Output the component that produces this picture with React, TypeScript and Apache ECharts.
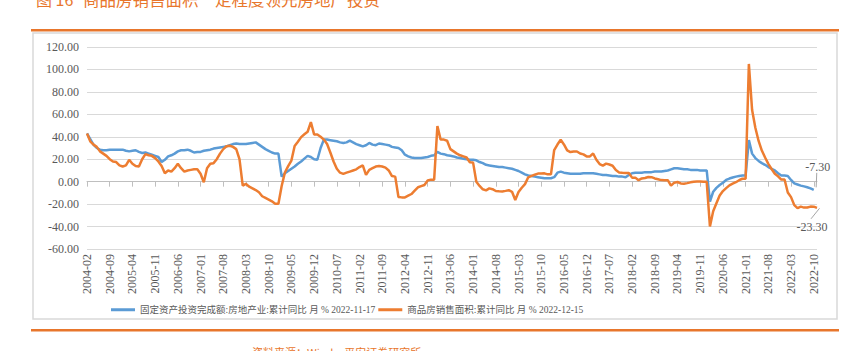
import React, { useEffect, useRef } from "react";
import * as echarts from "echarts";

// ---- categories: monthly, 2004-02 .. 2022-11 ----
const START_YEAR = 2004;
const START_MONTH = 2;
const END_YEAR = 2022;
const END_MONTH = 11;
const months: string[] = [];
for (let y = START_YEAR, m = START_MONTH; y < END_YEAR || (y === END_YEAR && m <= END_MONTH); ) {
  months.push(`${y}-${m < 10 ? "0" + m : m}`);
  m++;
  if (m > 12) { m = 1; y++; }
}

// ---- 固定资产投资完成额:房地产业:累计同比 (%) ----
const inv2004 = [43, 38, 33, 30, 28.5, 28, 28, 28.5, 28.5, 28.5, 28.5];
const inv2005 = [28.5, 27.5, 27, 27.5, 28, 26.5, 25.5, 26, 25, 24, 23, 22];
const inv2006 = [17.5, 19.5, 22.5, 23.5, 25, 27, 28, 28, 28.5, 27.5, 26, 26.5];
const inv2007 = [26.5, 27.5, 28, 28.5, 29.5, 30, 30.5, 31, 31.5, 32.5, 33.5, 34];
const inv2008 = [33.5, 33.5, 33.5, 34, 34.5, 35, 33, 31, 29, 27.5, 26, 25];
const inv2009 = [25, 4.5, 7.5, 9.5, 11.5, 13.5, 16, 18, 20.5, 23, 22, 20];
const inv2010 = [19.5, 30, 37.5, 37.5, 37, 36.5, 36, 35, 34.5, 35, 36.5, 35];
const inv2011 = [33.5, 32.5, 31.5, 32.5, 34.5, 33, 32.5, 34, 33.5, 33, 32.5, 31];
const inv2012 = [30.5, 30, 28, 24, 22.5, 21.5, 21, 21, 21, 21.5, 22, 23];
const inv2013 = [23.5, 26.5, 25, 24.5, 23.5, 23, 22.5, 21.5, 21, 20.5, 20, 19.5];
const inv2014 = [19.5, 19, 17.5, 16.5, 15, 14.5, 14, 13.5, 13, 13, 12.5, 12];
const inv2015 = [11.5, 10.5, 9.5, 8, 6.5, 5.5, 5, 4.5, 4, 3.5, 3, 3];
const inv2016 = [3, 4, 8, 9, 8, 7.5, 7, 7, 7, 7, 7.5, 7.5];
const inv2017 = [7.5, 7.5, 7, 6.5, 6, 6, 5.5, 5, 5, 4.5, 4.5, 4];
const inv2018 = [6, 7.5, 8, 8, 8, 8.5, 8.5, 8.5, 9, 9, 9, 9.5];
const inv2019 = [10, 11, 12, 12, 11.5, 11, 11, 10.5, 10.5, 10.5, 10, 10];
const inv2020 = [10, -17.7, -9, -5.5, -3, -1, 1.5, 2.8, 3.7, 4.5, 5, 5.5];
const inv2021 = [5.5, 37, 25, 21, 18.5, 16.5, 15, 13, 11.5, 10, 7.5, 5.5];
const inv2022 = [5.5, 5, 1.5, -1.5, -2.5, -3.5, -4.2, -5, -6, -7.3, null];

// ---- 商品房销售面积:累计同比 (%) ----
const sal2004 = [43, 36, 33, 31, 27, 25, 23, 20, 18, 17.5, 14.5];
const sal2005 = [13.5, 14.5, 19.5, 16, 14, 13.5, 20, 24.5, 23.5, 23, 21, 18];
const sal2006 = [14, 7.5, 10, 9, 12, 16, 12, 9, 10, 10.5, 11, 11];
const sal2007 = [7, -0.5, 12, 16, 16.5, 20, 25, 29, 31.5, 32, 31, 29];
const sal2008 = [20, -3.5, -2, -4.5, -6, -7.5, -9.5, -13, -14.5, -16, -17.5, -19.7];
const sal2009 = [-19.7, -3.8, 8.2, 13.9, 18.8, 31.7, 35.6, 39.7, 42.2, 44.5, 53, 42.1];
const sal2010 = [42, 40, 37.5, 33.5, 26, 18, 11.5, 8, 7, 8, 9, 10];
const sal2011 = [11, 13, 14.5, 6, 10.5, 12, 13.5, 14, 13.5, 12.5, 10, 5];
const sal2012 = [4.5, -13.6, -14, -14, -12.5, -11, -8, -5, -4, -3, 1, 1.8];
const sal2013 = [1.8, 49.5, 37.5, 37.5, 36.5, 29, 27, 25, 23.5, 22.5, 21.5, 17.3];
const sal2014 = [17, -0.1, -3.8, -6.8, -7.8, -6, -6.7, -8.3, -8.6, -8.7, -8.2, -7.6];
const sal2015 = [-9, -16.3, -9.2, -5.4, -2.2, 3.9, 5.2, 6.2, 7.2, 7.2, 7.4, 6.5];
const sal2016 = [6.5, 28.2, 33.1, 37.3, 33.2, 27.9, 26.4, 26.9, 26.9, 25.1, 24.3, 22.5];
const sal2017 = [22.5, 25.1, 19.5, 15.7, 14.3, 16.1, 15.3, 14.2, 10.3, 8.2, 7.9, 7.7];
const sal2018 = [7.7, 3.6, 3.6, 1.3, 2.9, 3.3, 4.2, 4.0, 2.9, 2.2, 1.4, 1.3];
const sal2019 = [1.3, -3.6, -0.9, -0.3, -1.6, -1.8, -1.3, -0.6, -0.1, 0.1, 0.2, -0.1];
const sal2020 = [-0.1, -39.9, -26.3, -19.3, -12.3, -8.4, -5.8, -3.3, -1.8, -0.5, 1.3, 2.6];
const sal2021 = [2.6, 104.9, 63.8, 48.1, 36.3, 27.7, 21.5, 15.9, 11.3, 7.1, 4.8, 1.9];
const sal2022 = [1.9, -9.6, -13.8, -20.9, -23.6, -22.2, -23.1, -23.0, -22.2, -22.3, -23.3];

const investment = [
  ...inv2004, ...inv2005, ...inv2006, ...inv2007, ...inv2008, ...inv2009, ...inv2010,
  ...inv2011, ...inv2012, ...inv2013, ...inv2014, ...inv2015, ...inv2016, ...inv2017,
  ...inv2018, ...inv2019, ...inv2020, ...inv2021, ...inv2022,
];
const sales = [
  ...sal2004, ...sal2005, ...sal2006, ...sal2007, ...sal2008, ...sal2009, ...sal2010,
  ...sal2011, ...sal2012, ...sal2013, ...sal2014, ...sal2015, ...sal2016, ...sal2017,
  ...sal2018, ...sal2019, ...sal2020, ...sal2021, ...sal2022,
];

const SERIES_NAMES = [
  "固定资产投资完成额:房地产业:累计同比 月 % 2022-11-17",
  "商品房销售面积:累计同比 月 % 2022-12-15",
];
const FIG_NO = "图 16";
const TITLE = "商品房销售面积一定程度领先房地产投资";
const SOURCE = "资料来源：Wind，平安证券研究所";

const FONT = "'Liberation Serif', 'Noto Sans CJK SC', serif";
const BLUE = "#5b9bd5";
const ORANGE = "#ed7d31";
const RULE = "#e8762c";
const GRID = "#d9d9d9";
const TXT = "#595959";

function lastIndex(arr: (number | null)[]) {
  let last = -1;
  arr.forEach((v, i) => { if (v !== null && v !== undefined) last = i; });
  return last;
}

export default function App() {
  const ref = useRef<HTMLDivElement>(null);
  useEffect(() => {
    if (!ref.current) return;
    const chart = echarts.init(ref.current, undefined, { renderer: "svg" });
    const baseGraphic: any[] = [
      {
        type: "rect",
        silent: true,
        z: -10,
        shape: { x: 33, y: 33, width: 804, height: 286 },
        style: { fill: "none", stroke: "#d9d9d9", lineWidth: 1.5 },
      },
      {
        type: "rect",
        silent: true,
        shape: { x: 31, y: 29, width: 808, height: 2.5 },
        style: { fill: RULE },
      },
      {
        type: "rect",
        silent: true,
        shape: { x: 31, y: 329, width: 808, height: 2.5 },
        style: { fill: RULE },
      },
      {
        type: "text",
        silent: true,
        x: 36,
        y: -1,
        style: {
          text: FIG_NO,
          fill: RULE,
          font: "16px 'Noto Sans CJK SC', sans-serif",
          textVerticalAlign: "middle",
        },
      },
      {
        type: "text",
        silent: true,
        x: 83,
        y: -1,
        style: {
          text: TITLE,
          fill: RULE,
          font: "16.5px 'Noto Sans CJK SC', sans-serif",
          textVerticalAlign: "middle",
        },
      },
      {
        type: "text",
        silent: true,
        x: 252,
        y: 352,
        style: {
          text: SOURCE,
          fill: RULE,
          font: "11px 'Noto Sans CJK SC', sans-serif",
          textVerticalAlign: "middle",
        },
      },
    ];
    const option: any = {
      animation: false,
      backgroundColor: "#ffffff",
      textStyle: { fontFamily: FONT },
      grid: { left: 87, right: 35, top: 47, bottom: 102, containLabel: false },
      legend: {
        left: 106,
        top: 300,
        icon: "rect",
        itemWidth: 24,
        itemHeight: 3,
        itemGap: 3,
        textStyle: { fontSize: 9.5, color: TXT, fontFamily: FONT },
        data: SERIES_NAMES,
      },
      xAxis: [
        {
          type: "category",
          data: months,
          boundaryGap: false,
          axisLine: { show: true, onZero: true, lineStyle: { color: "#bfbfbf", width: 1 } },
          axisTick: { show: true, interval: 6, length: 5, lineStyle: { color: "#bfbfbf" } },
          axisLabel: { show: false },
          splitLine: { show: false },
        },
        {
          type: "category",
          data: months,
          boundaryGap: false,
          position: "bottom",
          axisLine: { show: false, onZero: false },
          axisTick: { show: false },
          axisLabel: {
            interval: 6,
            rotate: 90,
            margin: 5,
            fontSize: 12,
            color: TXT,
            fontFamily: FONT,
          },
          splitLine: { show: false },
        },
      ],
      yAxis: {
        type: "value",
        min: -60,
        max: 120,
        interval: 20,
        axisLine: { show: false },
        axisTick: { show: false },
        axisLabel: {
          formatter: (v: number) => v.toFixed(2),
          color: TXT,
          fontSize: 12,
          margin: 8,
          fontFamily: FONT,
        },
        splitLine: { lineStyle: { color: GRID, width: 1 } },
      },
      series: [
        {
          name: SERIES_NAMES[0],
          type: "line",
          xAxisIndex: 0,
          data: investment,
          symbol: "none",
          showSymbol: false,
          lineStyle: { color: BLUE, width: 2.5 },
          itemStyle: { color: BLUE },
          z: 2,
        },
        {
          name: SERIES_NAMES[1],
          type: "line",
          xAxisIndex: 0,
          data: sales,
          symbol: "none",
          showSymbol: false,
          lineStyle: { color: ORANGE, width: 2.5 },
          itemStyle: { color: ORANGE },
          z: 3,
        },
      ],
      graphic: baseGraphic,
    };
    chart.setOption(option);

    // end-of-series data labels with leader lines, positioned through the axes' scales
    const iB = lastIndex(investment);
    const iS = lastIndex(sales);
    const vB = investment[iB] as number;
    const vS = sales[iS] as number;
    const pB = chart.convertToPixel({ xAxisIndex: 0, yAxisIndex: 0 }, [iB, vB]) as number[];
    const pS = chart.convertToPixel({ xAxisIndex: 0, yAxisIndex: 0 }, [iS, vS]) as number[];
    const labelFont = "12px 'Liberation Serif', serif";
    const endGraphic: any[] = [
      {
        type: "line",
        silent: true,
        z: 10,
        shape: { x1: pB[0] + 2.4, y1: pB[1] - 2.5, x2: pB[0] + 3, y2: pB[1] - 17 },
        style: { stroke: "#a6a6a6", lineWidth: 1 },
      },
      {
        type: "text",
        silent: true,
        z: 10,
        x: pB[0] + 4,
        y: pB[1] - 23,
        style: {
          text: vB.toFixed(2),
          fill: TXT,
          font: labelFont,
          textAlign: "center",
          textVerticalAlign: "middle",
        },
      },
      {
        type: "line",
        silent: true,
        z: 10,
        shape: { x1: pS[0] + 2.5, y1: pS[1] + 0.5, x2: pS[0] - 6, y2: pS[1] + 11 },
        style: { stroke: "#a6a6a6", lineWidth: 1 },
      },
      {
        type: "text",
        silent: true,
        z: 10,
        x: pS[0] - 5,
        y: pS[1] + 19,
        style: {
          text: vS.toFixed(2),
          fill: TXT,
          font: labelFont,
          textAlign: "center",
          textVerticalAlign: "middle",
        },
      },
    ];
    chart.setOption({ graphic: [...baseGraphic, ...endGraphic] });
    return () => chart.dispose();
  }, []);
  return (
    <div
      style={{ position: "fixed", left: 0, top: 0, width: 852, height: 351, background: "#fff" }}
    >
      <div ref={ref} style={{ width: 852, height: 351 }} />
    </div>
  );
}
